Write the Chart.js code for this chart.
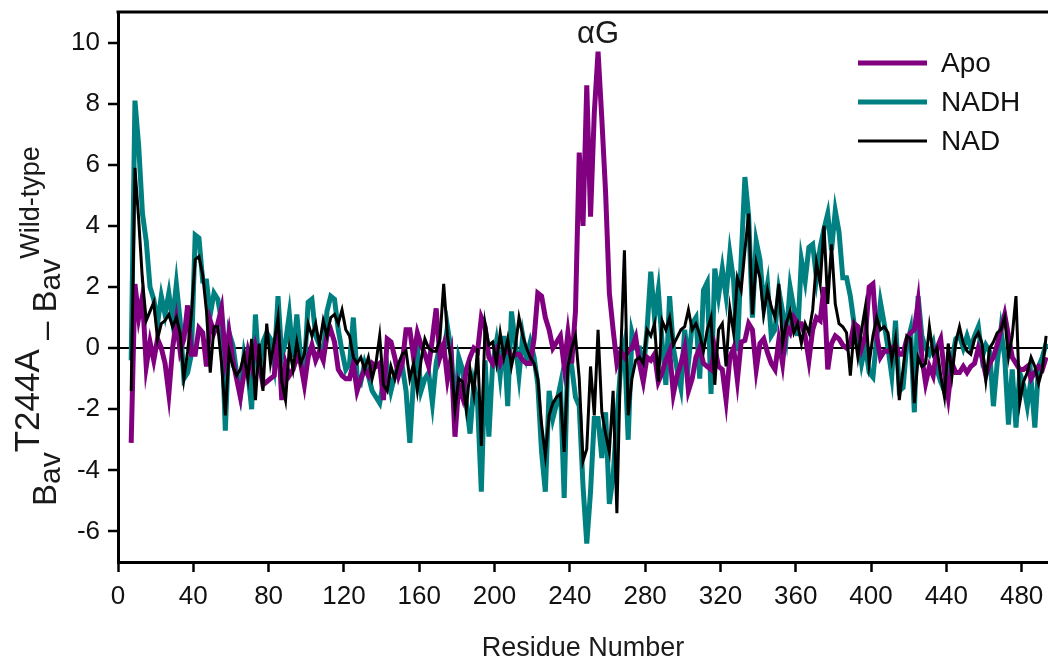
<!DOCTYPE html>
<html>
<head>
<meta charset="utf-8">
<script src="https://cdn.jsdelivr.net/npm/chart.js@4.4.1/dist/chart.umd.min.js"></script>
<style>
  html, body { margin: 0; padding: 0; background: #fff; }
  #wrap { width: 1048px; height: 660px; }
</style>
</head>
<body>
<div id="wrap"><canvas id="chart" width="1048" height="660"></canvas></div>
<script>
// Residues sampled every 2nd position, 7 .. 493
const FIRST_RESIDUE = 7;
const RESIDUE_STEP = 2;

// Apo (purple), values from residue 7 onwards
const apo = [
  -3.1, 2.1, 1.0, 1.7, -0.6, 0.2, -0.4, 0.3, 0.0, -0.5,
  -1.5, 0.0, 0.9, -0.1, 0.3, 1.4, -0.2, -0.2, 0.65, 0.5,
  -0.6, 0.9, 0.5, 0.8, 1.3, -0.3, 0.5, -0.4, -1.0, -1.6,
  -0.8, -0.1, -0.6, 0.05, -0.5, -1.2, -1.1, -1.0, -0.9, 0.6,
  -1.7, -0.5, -0.9, -0.7, -0.3, -0.5, -1.2, -0.3, 0.1, -0.4,
  -0.1, -0.4, 0.4, 0.6, 0.2, -0.7, -0.9, -1.0, -1.0, -0.5,
  -1.4, -1.0, -0.7, -0.9, -0.5, -0.6, -0.5, -1.7, 0.3, 0.2,
  -0.3, -0.9, -0.5, 0.6, 0.6, -0.3, 0.5, 0.1, -0.2, -0.6,
  0.3, 1.3, -0.3, 0.1, -1.0, -0.3, -2.9, -1.2, -1.6, -0.7,
  -0.3, 0.0, -0.1, 1.0, 0.7, -0.3, -0.5, -0.1, -0.5, -0.2,
  0.0, -0.3, -0.2, -0.2, -0.4, -0.5, -0.5, 0.3, 1.8, 1.7,
  1.0, 0.6, 0.0, 0.2, 0.4, -0.6, 0.5, -0.5, 1.2, 6.4,
  4.0, 8.6, 4.3, 7.7, 9.7, 7.5, 5.1, 1.8, 0.6, -0.5,
  -0.1, -0.3, -0.1, 0.0, 0.35, -0.5, -1.1, -0.3, -0.4, -0.2,
  -1.1, -0.8, -0.4, -0.1, -1.5, -0.9, -0.5, 0.0, -1.4, -1.0,
  -0.3, 0.0, -0.5, -0.6, -0.7, 0.0, -0.6, -0.7, -1.7, -0.3,
  0.0, -1.05, 0.2, 0.25, 0.8, 0.6, -0.7, 0.15, 0.3, -0.15,
  -0.5, -0.7, 0.25, -0.5, 0.7, 0.5, 1.0, 0.8, 0.8, 0.4,
  -0.4, 0.6, 1.0, 0.9, 2.0, -0.7, 0.15, 0.4, 0.3, 0.1,
  0.0, 0.15, 0.8, 0.7, 0.0, 0.4, 2.0, 2.1, 0.4, -0.3,
  -0.1, -0.1, 0.0, 0.1, -0.2, -0.2, 0.3, 0.5, 0.6, 1.5,
  -0.3, -1.15, -0.6, -0.9, 0.0, 0.3, -0.8, -1.6, -0.5, -0.8,
  -0.8, -0.6, -0.8, -0.6, -0.5, 0.0, -0.3, -0.9, -0.5, -0.3,
  0.1, 0.6, 1.1, 0.4, -0.3, -0.5, -0.7, -0.7, -0.6, -1.0,
  -0.8, -0.6, -0.7, -0.3
];

// NADH (teal)
const nadh = [
  -0.4, 8.1, 6.6, 4.4, 3.5, 2.0, 1.6, 0.8, 1.7, 1.1,
  1.8, 0.9, 2.1, 0.9, -1.0, -0.8, -0.2, 3.7, 3.6, 2.2,
  2.2, 1.1, 1.8, 1.6, 0.9, -2.7, 0.5, 0.1, -0.8, -1.5,
  -0.2, -0.8, -2.0, 1.1, -0.8, 0.2, 0.5, 0.3, -0.5, 1.7,
  -0.3, 0.2, 1.1, -0.3, 1.1, -0.3, -0.7, 1.5, 1.6, 0.4,
  0.1, -0.3, 1.2, 1.7, 1.6, 0.6, -0.1, -0.7, -0.5, 1.0,
  -0.9, -1.1, -0.5, -0.9, -1.4, -1.6, -1.8, -1.1, -0.6, -1.4,
  -0.9, -0.6, -0.6, -1.4, -3.1, -1.0, 0.0, -1.4, -1.0, -0.8,
  -1.8, -0.5, 0.1, -0.2, 0.7, -0.1, -2.3, -0.3, -0.7, -1.8,
  -2.8, -1.2, -1.8, -4.7, -0.4, -2.9, -0.5, 0.2, -0.9, 0.4,
  -1.9, 1.2, 0.2, -0.9, 0.4, -0.3, 0.2, -0.3, -1.2, -3.4,
  -4.7, -1.4, -2.3, -1.8, -1.2, -4.9, 0.0, -0.6, -1.6, -1.9,
  -4.5, -6.4, -4.7, -2.3, -2.3, -3.6, -2.1, -5.1, -4.2, -2.3,
  -0.6, 0.1, -3.0, 0.5, 0.0, 0.0, -0.8, 0.6, 2.5, 1.0,
  1.9, 0.2, -1.2, 1.7, 0.0, -0.7, -1.3, 0.6, -0.5, 0.8,
  1.0, -1.0, 1.9, 2.15, -1.5, 2.6, 1.7, 2.6, 1.7, 3.1,
  2.2, -0.1, 2.9, 5.6, 4.3, 1.0, 3.5, 2.9, 1.4, 2.1,
  0.4, 0.6, 1.9, 1.2, 0.4, 2.0, 1.3, 0.4, 2.9, 2.2,
  3.3, 3.4, 2.3, 3.3, 3.9, 4.4, 3.2, 4.5, 3.8, 2.3,
  2.3, 1.7, 0.8, 0.4, -0.5, 0.1, -0.8, -0.95, 0.3, 1.5,
  0.8, 0.0, -0.9, 0.9, -1.4, -1.3, 0.1, 0.6, -2.1, 1.7,
  0.4, 0.0, -0.2, 0.15, -0.7, -1.1, -1.4, -0.5, -0.4, 0.3,
  0.4, 0.0, 0.4, 0.0, 0.4, 0.7, -0.3, 0.1, -0.1, -1.9,
  -0.5, 0.6, -0.3, -2.5, -0.7, -2.6, -0.8, -1.2, -1.9, -1.0,
  -2.6, -0.6, -0.3, 0.15
];

// NAD (black)
const nad = [
  -1.4, 5.9, 4.2, 2.2, 0.9, 1.2, 1.5, 0.3, 0.8, 0.9,
  1.1, 0.7, 1.0, 0.5, -1.0, -0.1, 1.1, 2.9, 3.0, 2.4,
  1.2, -0.8, 0.7, 0.7, -0.5, -2.2, -0.1, -0.6, -0.9, -0.7,
  -0.2, -1.0, 0.3, -1.7, 0.15, -1.4, 0.8, -0.5, 0.2, 1.0,
  -1.1, -1.7, 0.0, -0.7, 0.2, -0.5, -0.2, 0.8, 0.4, 0.8,
  0.1, 0.9, 0.4, 1.0, 1.1, 0.8, 1.25, 0.6, 0.4, -0.3,
  -0.5, -0.3, -0.7, -0.3, -1.0, -0.5, 0.4, -1.2, -1.4, -0.6,
  -1.0, -0.5, -0.2, -0.1, -1.0, -0.5, -1.4, -0.4, 0.3, 0.0,
  -0.1, -0.1, 0.3, 2.1, 0.4, -0.5, -2.0, -1.0, -1.1, -2.0,
  -0.7, -1.5, 0.0, -3.2, 0.8, 0.1, 0.2, -0.5, 0.5, -0.3,
  0.3, -0.6, 0.0, 1.0, 0.4, 0.0, -0.3, -0.5, -1.0, -2.5,
  -3.5, -2.2, -1.8, -1.6, -1.5, -3.4, -0.6, 0.0, 0.4, -1.0,
  -3.7, -3.3, -0.6, -2.2, 0.6, -2.1, -2.8, -3.4, -1.4, -5.4,
  -0.3, 3.2, -2.2, -1.0, -0.4, -0.3, -0.5, 0.6, 0.4, 0.8,
  -1.1, 0.9, 0.6, 1.0, 0.1, 0.35, 0.6, 0.7, 1.25, 0.6,
  0.8, 0.45, -0.1, 0.6, 1.0, -1.2, 0.6, 0.8, -0.6, 1.3,
  0.5, 2.3, 1.9, 3.2, 4.4, 1.1, 2.8, 2.3, 1.1, 1.9,
  1.35, 1.0, 2.1, 0.15, 0.8, 1.2, 0.5, 0.8, 0.15, 0.8,
  0.5, 1.25, 2.8, 2.1, 4.0, 1.45, 3.4, 1.45, 0.8, 0.7,
  0.5, -0.9, 0.6, -0.3, 0.6, 1.35, -0.5, 0.4, 1.0, 0.6,
  0.7, 0.5, -0.4, 0.3, -1.7, -0.7, 0.4, 0.3, -1.8, -0.3,
  -0.6, -0.5, 0.7, -0.2, 0.0, -0.9, -1.6, 0.15, -0.9, 0.2,
  0.7, 0.15, -0.1, -0.2, 0.3, 0.5, 0.15, -1.05, 0.0, 0.2,
  0.5, 0.6, 1.0, -0.3, 0.4, 1.7, -1.8, -1.1, -0.8, -0.3,
  -0.6, -1.15, -0.7, 0.4
];

const xTicks = [0, 40, 80, 120, 160, 200, 240, 280, 320, 360, 400, 440, 480];
const yTicks = [-6, -4, -2, 0, 2, 4, 6, 8, 10];
const legendItems = ['Apo', 'NADH', 'NAD'];

const FONT = "'Liberation Sans', Arial, sans-serif";
const PURPLE = '#800080';
const TEAL = '#008080';

function toPoints(values) {
  return values.map((v, i) => ({ x: FIRST_RESIDUE + i * RESIDUE_STEP, y: v }));
}

// draw a run of text pieces rotated -90deg, with sub/superscript shifts
function drawRotatedRich(ctx, baseX, startY, runs) {
  ctx.save();
  ctx.translate(baseX, startY);
  ctx.rotate(-Math.PI / 2);
  ctx.fillStyle = '#1a1a1a';
  ctx.textBaseline = 'alphabetic';
  ctx.textAlign = 'left';
  let x = 0;
  runs.forEach(r => {
    ctx.font = r.size + 'px ' + FONT;
    ctx.fillText(r.text, x, r.dy);
    x += ctx.measureText(r.text).width;
  });
  ctx.restore();
}

const decorations = {
  id: 'decorations',
  afterDraw(chart) {
    const ctx = chart.ctx;
    const area = chart.chartArea;
    const xs = chart.scales.x;
    const ys = chart.scales.y;

    // top spine
    ctx.save();
    ctx.strokeStyle = '#000';
    ctx.lineWidth = 3;
    ctx.beginPath();
    ctx.moveTo(area.left - 1.5, area.top);
    ctx.lineTo(area.right, area.top);
    ctx.stroke();

    // x title
    ctx.fillStyle = '#1a1a1a';
    ctx.font = '27px ' + FONT;
    ctx.textAlign = 'center';
    ctx.textBaseline = 'alphabetic';
    ctx.fillText('Residue Number', 583, 656);

    // helix label
    ctx.font = '31px ' + FONT;
    ctx.fillText('\u03b1G', xs.getPixelForValue(255), ys.getPixelForValue(10));

    // legend
    const colors = [PURPLE, TEAL, '#000'];
    const widths = [5, 5, 3];
    const rows = [63, 102, 141];
    ctx.textAlign = 'left';
    ctx.textBaseline = 'middle';
    ctx.font = '28px ' + FONT;
    legendItems.forEach((name, i) => {
      ctx.strokeStyle = colors[i];
      ctx.lineWidth = widths[i];
      ctx.beginPath();
      ctx.moveTo(858, rows[i]);
      ctx.lineTo(927, rows[i]);
      ctx.stroke();
      ctx.fillStyle = '#111';
      ctx.fillText(name, 941, rows[i] + 1);
    });
    ctx.restore();

    // y title: B_av^T244A - B_av^Wild-type
    drawRotatedRich(ctx, 56, 506, [
      { text: 'B', size: 33, dy: 0 },
      { text: 'av', size: 30, dy: 4 },
      { text: 'T244A', size: 35, dy: -17 },
      { text: ' \u2013 B', size: 33, dy: 0 },
      { text: 'av', size: 30, dy: 4 },
      { text: 'Wild-type', size: 27, dy: -17 }
    ]);
  }
};

const chart = new Chart(document.getElementById('chart'), {
  type: 'line',
  data: {
    datasets: [
      { label: 'NAD', data: toPoints(nad), borderColor: '#000', borderWidth: 3, order: 1 },
      { label: 'Apo', data: toPoints(apo), borderColor: PURPLE, borderWidth: 5, order: 2 },
      { label: 'NADH', data: toPoints(nadh), borderColor: TEAL, borderWidth: 5, order: 3 }
    ]
  },
  options: {
    responsive: false,
    animation: false,
    devicePixelRatio: 1,
    layout: { padding: { top: 12, right: 0, left: 0, bottom: 0 } },
    elements: {
      point: { radius: 0 },
      line: { tension: 0, borderJoinStyle: 'miter', borderCapStyle: 'butt', fill: false }
    },
    plugins: { legend: { display: false }, tooltip: { enabled: false } },
    scales: {
      x: {
        type: 'linear',
        min: 0,
        max: 494,
        afterBuildTicks: s => { s.ticks = xTicks.map(v => ({ value: v })); },
        afterFit: s => { s.height = 98; s.paddingLeft = 0; s.paddingRight = 0; },
        grid: { drawOnChartArea: false, drawTicks: true, tickLength: 10, tickWidth: 2.5, tickColor: '#000' },
        border: { display: true, color: '#000', width: 3 },
        ticks: { color: '#111', font: { family: FONT, size: 26 }, padding: 9, maxRotation: 0, autoSkip: false }
      },
      y: {
        min: -7,
        max: 11,
        afterBuildTicks: s => { s.ticks = yTicks.map(v => ({ value: v })); },
        afterFit: s => { s.width = 118; s.paddingTop = 0; s.paddingBottom = 0; },
        grid: {
          color: c => (c.tick && c.tick.value === 0) ? '#000' : 'rgba(0,0,0,0)',
          lineWidth: 2,
          drawTicks: true,
          tickLength: 10,
          tickWidth: 2.5,
          tickColor: '#000'
        },
        border: { display: true, color: '#000', width: 3 },
        ticks: { color: '#111', font: { family: FONT, size: 26 }, padding: 8 }
      }
    }
  },
  plugins: [decorations]
});
</script>
</body>
</html>
